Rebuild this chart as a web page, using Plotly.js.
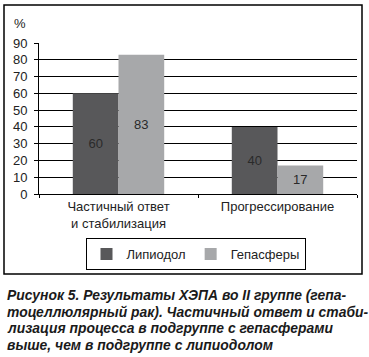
<!DOCTYPE html>
<html><head><meta charset="utf-8">
<script src="https://cdn.plot.ly/plotly-3.0.1.min.js"></script>
<style>html,body{margin:0;padding:0;background:#fff}#c{width:369px;height:357px}</style>
</head><body><div id="c"></div>
<script>
const categories = ["Частичный ответ<br>и стабилизация", "Прогрессирование"];
const seriesNames = ["Липиодол", "Гепасферы"];
const lipiodol = [60, 40];
const hepasphere = [83, 17];
const yTicks = [0, 10, 20, 30, 40, 50, 60, 70, 80, 90];
const captionLines = [
  "Рисунок 5. Результаты ХЭПА во II группе (гепа-",
  "тоцеллюлярный рак). Частичный ответ и стаби-",
  "лизация процесса в подгруппе с гепасферами",
  "выше, чем в подгруппе с липиодолом"
];

const font = "Liberation Sans, Arial, sans-serif";
const mk = (name, y, color) => ({
  type: "bar", name: name, x: categories, y: y,
  marker: {color: color, line: {width: 0}},
  text: y.map(String), textposition: "inside", insidetextanchor: "middle",
  textfont: {family: font, size: 13, color: "#2a2a2a"},
  hoverinfo: "none"
});
const data = [mk(seriesNames[0], lipiodol, "#58585a"), mk(seriesNames[1], hepasphere, "#a7a8aa")];

const W = 369, H = 357, L = 39, R = 357, T = 43, B = 194;
const px = x => (x - L) / (R - L);
const py = y => (B - y) / (B - T);

const annotations = [{
  text: "%", xref: "paper", yref: "paper", x: px(12), y: py(23),
  xanchor: "left", yanchor: "middle", showarrow: false,
  font: {family: font, size: 13, color: "#222"}
}];
captionLines.forEach((t, i) => annotations.push({
  text: "<b><i>" + t + "</i></b>", xref: "paper", yref: "paper",
  x: px(5), y: py(295 + i * 16.7), xanchor: "left", yanchor: "middle",
  showarrow: false, font: {family: font, size: 13.9, color: "#1a1a1a"}
}));

const layout = {
  width: W, height: H,
  margin: {l: L, r: W - R, t: T, b: H - B, pad: 0},
  paper_bgcolor: "#fff", plot_bgcolor: "#fff",
  barmode: "group", bargap: 0.425, bargroupgap: 0,
  font: {family: font, size: 13, color: "#222"},
  xaxis: {
    type: "category", showline: true, linecolor: "#000", linewidth: 1,
    ticks: "outside", tickson: "boundaries", ticklen: 3, tickcolor: "#000",
    showgrid: false, zeroline: false, fixedrange: true,
    tickfont: {family: font, size: 13, color: "#222"}
  },
  yaxis: {
    range: [0, 90], tickvals: yTicks, showline: true, linecolor: "#000", linewidth: 1,
    ticks: "outside", ticklen: 4, tickcolor: "#000", ticklabelstandoff: 4,
    showgrid: true, gridcolor: "#000", gridwidth: 1, zeroline: false,
    tickfont: {family: font, size: 13, color: "#222"}, fixedrange: true
  },
  showlegend: true,
  legend: {
    orientation: "h", x: px(195.5), xanchor: "center", y: py(238), yanchor: "top",
    bordercolor: "#000", borderwidth: 1, font: {family: font, size: 13, color: "#222"},
    itemwidth: 30, traceorder: "normal"
  },
  shapes: [{
    type: "rect", xref: "paper", yref: "paper",
    x0: px(4), x1: px(362), y0: py(274), y1: py(5),
    line: {color: "#000", width: 1.5}, fillcolor: "rgba(0,0,0,0)"
  }],
  annotations: annotations
};
Plotly.newPlot("c", data, layout, {staticPlot: true, displayModeBar: false});
</script></body></html>
